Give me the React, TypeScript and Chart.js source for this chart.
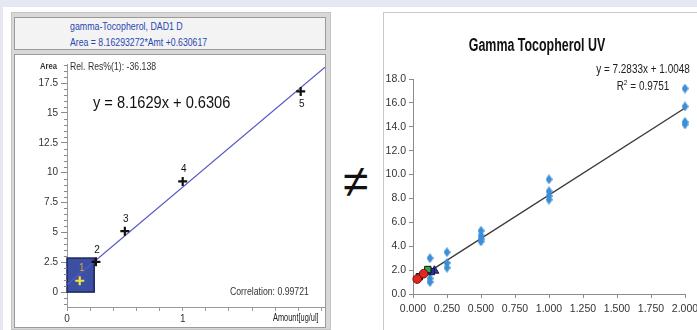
import React, { useEffect, useRef } from "react";
import { Chart, registerables } from "chart.js";

Chart.register(...registerables);

const SANS = '"Liberation Sans", Arial, sans-serif';

// ---------- Left chart (calibration curve) ----------
const calibAmounts = [0.11, 0.25, 0.5, 1.0, 2.02];
const calibAreas = [0.95, 2.53, 5.1, 9.27, 16.8];
const calibLabels = ["1", "2", "3", "4", "5"];
const calibLabelSide = ["above", "above", "above", "above", "below"];
const calibPointColors = ["#f2e33a", "#111111", "#111111", "#111111", "#111111"];
const calibLabelColors = ["#d9a23a", "#111111", "#111111", "#111111", "#111111"];
const calibSlope = 8.16293272;
const calibIntercept = 0.630617;
const calibLineX = [0, 2.23];
const zoomBox = [0, 0, 0.235, 2.85];
const leftYMajor = [0, 2.5, 5, 7.5, 10, 12.5, 15, 17.5];
const leftYMinor = [-1, -0.5, 0.5, 1, 1.5, 2, 3, 3.5, 4, 4.5, 5.5, 6, 6.5, 7, 8, 8.5, 9, 9.5, 10.5, 11, 11.5, 12, 13, 13.5, 14, 14.5, 15.5, 16, 16.5, 17, 18, 18.5, 19];
const leftXTicks = [0, 0.2, 0.4, 0.6, 0.8, 1, 1.2, 1.4, 1.6, 1.8, 2, 2.2];
const leftXLabelled = [0, 1];

// ---------- Right chart (UV) ----------
const uvConc = [0.125, 0.125, 0.125, 0.125, 0.25, 0.25, 0.25, 0.5, 0.5, 0.5, 0.5, 1, 1, 1, 1, 2, 2, 2, 2];
const uvResp = [3.0, 1.9, 1.3, 1.0, 3.5, 2.6, 2.2, 5.3, 4.9, 4.6, 4.4, 9.6, 8.6, 8.2, 7.9, 17.2, 15.7, 14.4, 14.2];
const redX = [0.031, 0.078];
const redY = [1.25, 1.7];
const greenX = [0.047, 0.109];
const greenY = [1.45, 2.05];
const navySqX = [0.135];
const navySqY = [1.88];
const navyTriX = [0.158];
const navyTriY = [1.95];
const uvSlope = 7.2833;
const uvIntercept = 1.0048;
const uvLineX = [0.03, 2.0];
const uvXTicks = [0, 0.25, 0.5, 0.75, 1, 1.25, 1.5, 1.75, 2];
const uvYTicks = [0, 2, 4, 6, 8, 10, 12, 14, 16, 18];

function makeDiamond(color: string, w: number, h: number) {
  const c = document.createElement("canvas");
  c.width = w;
  c.height = h;
  const g = c.getContext("2d")!;
  g.fillStyle = color;
  g.beginPath();
  g.moveTo(w / 2, 0);
  g.lineTo(w, h / 2);
  g.lineTo(w / 2, h);
  g.lineTo(0, h / 2);
  g.closePath();
  g.fill();
  return c;
}

const noSidePad = (a: any) => {
  a.paddingLeft = 0;
  a.paddingRight = 0;
};

const leftDecor = {
  id: "leftDecor",
  beforeDatasetsDraw(chart: any) {
    const { ctx, scales } = chart;
    const x0 = scales.x.getPixelForValue(zoomBox[0]);
    const y0 = scales.y.getPixelForValue(zoomBox[1]);
    const x1 = scales.x.getPixelForValue(zoomBox[2]);
    const y1 = scales.y.getPixelForValue(zoomBox[3]);
    ctx.save();
    ctx.fillStyle = "#3b4fa3";
    ctx.strokeStyle = "#1b2560";
    ctx.lineWidth = 1.5;
    ctx.fillRect(x0, y1, x1 - x0, y0 - y1);
    ctx.strokeRect(x0, y1, x1 - x0, y0 - y1);
    ctx.restore();
  },
  afterDatasetsDraw(chart: any) {
    const { ctx, scales } = chart;
    ctx.save();
    ctx.font = `10px ${SANS}`;
    ctx.textAlign = "center";
    ctx.textBaseline = "middle";
    calibAmounts.forEach((a, i) => {
      const px = scales.x.getPixelForValue(a);
      const py = scales.y.getPixelForValue(calibAreas[i]);
      ctx.fillStyle = calibLabelColors[i];
      const dy = calibLabelSide[i] === "above" ? -12 : 13;
      ctx.fillText(calibLabels[i], px + (i === 0 ? 2 : 1), py + dy);
    });
    const ax = chart.chartArea.left;
    ctx.strokeStyle = "#8a8a8a";
    ctx.lineWidth = 1;
    leftYMinor.forEach((v) => {
      const py = Math.round(scales.y.getPixelForValue(v)) + 0.5;
      ctx.beginPath();
      ctx.moveTo(ax - 3, py);
      ctx.lineTo(ax, py);
      ctx.stroke();
    });
    ctx.restore();
  },
};

export default function App() {
  const leftRef = useRef<HTMLCanvasElement>(null);
  const rightRef = useRef<HTMLCanvasElement>(null);

  useEffect(() => {
    const left = new Chart(leftRef.current!, {
      type: "scatter",
      data: {
        datasets: [
          {
            type: "line",
            data: calibLineX.map((x) => ({ x, y: calibSlope * x + calibIntercept })),
            borderColor: "#5458c4",
            borderWidth: 1.2,
            pointRadius: 0,
            order: 5,
          } as any,
          {
            data: calibAmounts.map((x, i) => ({ x, y: calibAreas[i] })),
            pointStyle: "cross",
            pointRadius: 4.5,
            borderWidth: 2.2,
            borderColor: calibPointColors,
            backgroundColor: calibPointColors,
            order: 1,
          },
        ],
      },
      options: {
        animation: false,
        responsive: false,
        maintainAspectRatio: false,
        layout: { autoPadding: false, padding: { top: 8, left: 0, right: 0, bottom: 0 } },
        plugins: { legend: { display: false }, tooltip: { enabled: false } },
        scales: {
          x: {
            type: "linear",
            min: 0,
            max: 2.23,
            afterBuildTicks: (a: any) => {
              a.ticks = leftXTicks.map((v) => ({ value: v }));
            },
            afterFit: (a: any) => {
              a.height = 18;
              noSidePad(a);
            },
            grid: { drawOnChartArea: false, tickLength: 4, color: "#9a9a9a" },
            border: { color: "#9a9a9a" },
            ticks: {
              autoSkip: false,
              maxRotation: 0,
              padding: 2,
              color: "#333",
              font: { size: 10, family: SANS },
              callback: (v: any) => (leftXLabelled.includes(Number(v)) ? String(v) : ""),
            },
          },
          y: {
            min: -1.25,
            max: 19.1,
            afterBuildTicks: (a: any) => {
              a.ticks = leftYMajor.map((v) => ({ value: v }));
            },
            afterFit: (a: any) => {
              a.width = 52;
            },
            grid: { drawOnChartArea: false, tickLength: 6, color: "#8a8a8a" },
            border: { color: "#9a9a9a" },
            ticks: {
              autoSkip: false,
              padding: 3,
              color: "#333",
              font: { size: 10, family: SANS },
              callback: (v: any) => String(v),
            },
          },
        },
      },
      plugins: [leftDecor],
    } as any);

    const diamond = makeDiamond("#3b8fd6", 7, 10);
    const right = new Chart(rightRef.current!, {
      type: "scatter",
      data: {
        datasets: [
          {
            type: "line",
            data: uvLineX.map((x) => ({ x, y: uvSlope * x + uvIntercept })),
            borderColor: "#3a3a3a",
            borderWidth: 1.4,
            pointRadius: 0,
            order: 10,
          } as any,
          {
            data: uvConc.map((x, i) => ({ x, y: uvResp[i] })),
            pointStyle: diamond,
            pointRadius: 5,
            order: 2,
            clip: false,
          },
          {
            data: redX.map((x, i) => ({ x, y: redY[i] })),
            pointStyle: "circle",
            pointRadius: 4.3,
            backgroundColor: "#e5251f",
            borderColor: "#6a1010",
            borderWidth: 1,
            order: 1,
            clip: false,
          },
          {
            data: greenX.map((x, i) => ({ x, y: greenY[i] })),
            pointStyle: "rect",
            pointRadius: 4.5,
            backgroundColor: "#2fa84a",
            borderColor: "#111",
            borderWidth: 1,
            order: 1,
          },
          {
            data: navySqX.map((x, i) => ({ x, y: navySqY[i] })),
            pointStyle: "rect",
            pointRadius: 4.5,
            backgroundColor: "#2b2d92",
            borderColor: "#15154a",
            borderWidth: 1,
            order: 1,
          },
          {
            data: navyTriX.map((x, i) => ({ x, y: navyTriY[i] })),
            pointStyle: "triangle",
            pointRadius: 5,
            backgroundColor: "#3a3aa8",
            borderColor: "#15154a",
            borderWidth: 1,
            order: 1,
          },
        ],
      },
      options: {
        animation: false,
        responsive: false,
        maintainAspectRatio: false,
        layout: { autoPadding: false, padding: { top: 66, left: 0, right: 29, bottom: 0 } },
        plugins: {
          legend: { display: false },
          tooltip: { enabled: false },
        },
        scales: {
          x: {
            type: "linear",
            min: 0,
            max: 2,
            afterBuildTicks: (a: any) => {
              a.ticks = uvXTicks.map((v) => ({ value: v }));
            },
            afterFit: (a: any) => {
              a.height = 36;
              noSidePad(a);
            },
            grid: { drawOnChartArea: false, tickLength: 4, color: "#8c8c8c" },
            border: { color: "#8c8c8c" },
            ticks: {
              autoSkip: false,
              maxRotation: 0,
              padding: 5,
              color: "#333",
              font: { size: 10.5, family: SANS },
              callback: (v: any) => Number(v).toFixed(3),
            },
          },
          y: {
            min: 0,
            max: 18,
            afterBuildTicks: (a: any) => {
              a.ticks = uvYTicks.map((v) => ({ value: v }));
            },
            afterFit: (a: any) => {
              a.width = 29;
            },
            grid: { drawOnChartArea: false, tickLength: 4, color: "#8c8c8c" },
            border: { color: "#8c8c8c" },
            ticks: {
              autoSkip: false,
              padding: 3,
              color: "#333",
              font: { size: 10.5, family: SANS },
              callback: (v: any) => Number(v).toFixed(1),
            },
          },
        },
      },
    } as any);

    return () => {
      left.destroy();
      right.destroy();
    };
  }, []);

  const abs = (l: number, t: number, extra: any = {}) => ({
    position: "absolute" as const,
    left: l,
    top: t,
    whiteSpace: "nowrap" as const,
    ...extra,
  });

  const squeeze = (s: number, origin = "left center") => ({ transform: `scaleX(${s})`, transformOrigin: origin });

  return (
    <div style={{ position: "fixed", left: 0, top: 0, width: 697, height: 330, background: "#ffffff", overflow: "hidden" }}>
      <div style={abs(0, 0, { width: 697, height: 7, background: "#e5e8f3" })} />
      <div style={abs(0, 0, { width: 3, height: 330, background: "#e5e8f3" })} />

      {/* Left panel */}
      <div style={abs(11, 12, { width: 320, height: 318, background: "#d8d8d8", border: "1px solid #c4c4c4", boxSizing: "border-box" })} />
      <div style={abs(14, 17, { width: 312, height: 33, background: "#f3f3f3", border: "1px solid #9a9a9a", boxSizing: "border-box" })} />
      <div style={abs(14, 54, { width: 312, height: 274, background: "#ffffff", border: "1px solid #9a9a9a", boxSizing: "border-box" })} />
      <div style={abs(70, 19, { font: `10.5px ${SANS}`, color: "#2a47b0", lineHeight: "14px", ...squeeze(0.84) })}>gamma-Tocopherol, DAD1 D</div>
      <div style={abs(70, 35, { font: `10.5px ${SANS}`, color: "#2a47b0", lineHeight: "14px", ...squeeze(0.83) })}>Area = 8.16293272*Amt +0.630617</div>
      <canvas ref={leftRef} width={310} height={270} style={abs(15, 55, { width: 310, height: 270 })} />
      <div style={abs(40, 60, { font: `bold 9px ${SANS}`, color: "#333", lineHeight: "12px", ...squeeze(0.85) })}>Area</div>
      <div style={abs(70, 61, { font: `10px ${SANS}`, color: "#333", lineHeight: "12px", ...squeeze(0.87) })}>Rel. Res%(1): -36.138</div>
      <div style={abs(93, 92, { font: `17px ${SANS}`, color: "#111", lineHeight: "22px", ...squeeze(0.86) })}>y = 8.1629x + 0.6306</div>
      <div style={abs(230, 286, { font: `10px ${SANS}`, color: "#333", lineHeight: "12px", ...squeeze(0.87) })}>Correlation: 0.99721</div>
      <div style={abs(273, 312, { font: `10px ${SANS}`, color: "#222", lineHeight: "12px", ...squeeze(0.74) })}>Amount[ug/ul]</div>

      {/* Not-equal sign */}
      <div style={abs(343, 155, { font: `46px ${SANS}`, color: "#111", lineHeight: "52px" })}>≠</div>

      {/* Right panel */}
      <div style={abs(383, 12, { width: 314, height: 318, background: "#ffffff", borderLeft: "1px solid #c8c8c8", borderTop: "1px solid #c8c8c8", boxSizing: "border-box" })} />
      <canvas ref={rightRef} width={330} height={317} style={abs(384, 13, { width: 330, height: 317 })} />
      <div style={abs(437, 33, { width: 200, textAlign: "center", font: `bold 18px ${SANS}`, color: "#111", lineHeight: "24px", ...squeeze(0.69, "center center") })}>Gamma Tocopherol UV</div>
      <div style={abs(583, 61, { width: 120, textAlign: "center", font: `12px ${SANS}`, color: "#222", lineHeight: "17px", ...squeeze(0.83, "center center") })}>
        y = 7.2833x + 1.0048
        <br />
        R<sup style={{ fontSize: "8px", verticalAlign: "top", lineHeight: "10px" }}>2</sup> = 0.9751
      </div>
    </div>
  );
}
